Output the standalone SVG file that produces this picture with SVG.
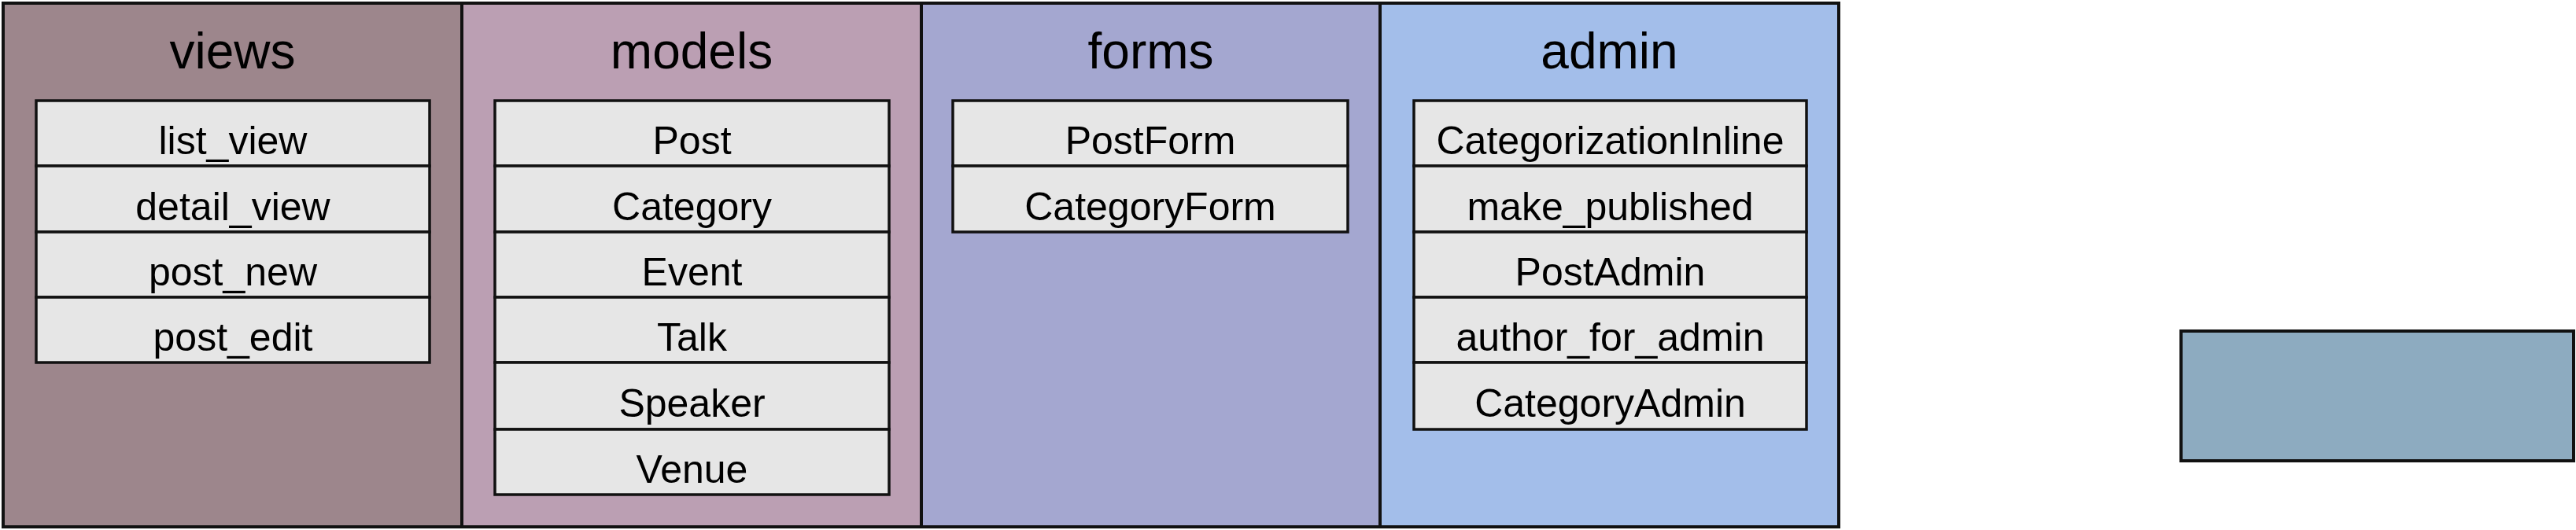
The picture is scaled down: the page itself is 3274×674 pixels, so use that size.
<svg xmlns="http://www.w3.org/2000/svg" width="3274" height="674" viewBox="0 0 3274 674">
<style>
.panel{stroke:#111;stroke-width:4}
.item rect{fill:#e6e6e6;stroke:#111;stroke-width:3.5}
.item text,.hdr{font-family:"Liberation Sans",Arial,sans-serif;fill:#000;text-anchor:middle}
.item text{font-size:50px}
.hdr{font-size:64px}
</style>
<rect x="0" y="0" width="3274" height="674" fill="#ffffff"/>
<g id="views">
<rect class="panel" x="4" y="4" width="583" height="666" fill="#9d868c"/>
<text class="hdr" x="295.5" y="87">views</text>
<g class="item"><rect x="46" y="128" width="500" height="83"/><text x="296" y="196">list_view</text></g>
<g class="item"><rect x="46" y="211" width="500" height="84"/><text x="296" y="280">detail_view</text></g>
<g class="item"><rect x="46" y="295" width="500" height="83"/><text x="296" y="363">post_new</text></g>
<g class="item"><rect x="46" y="378" width="500" height="83"/><text x="296" y="446">post_edit</text></g>
</g>
<g id="models">
<rect class="panel" x="587" y="4" width="584" height="666" fill="#bb9fb3"/>
<text class="hdr" x="879" y="87">models</text>
<g class="item"><rect x="629" y="128" width="501" height="83"/><text x="879.5" y="196">Post</text></g>
<g class="item"><rect x="629" y="211" width="501" height="84"/><text x="879.5" y="280">Category</text></g>
<g class="item"><rect x="629" y="295" width="501" height="83"/><text x="879.5" y="363">Event</text></g>
<g class="item"><rect x="629" y="378" width="501" height="83"/><text x="879.5" y="446">Talk</text></g>
<g class="item"><rect x="629" y="461" width="501" height="85"/><text x="879.5" y="530">Speaker</text></g>
<g class="item"><rect x="629" y="546" width="501" height="83"/><text x="879.5" y="614">Venue</text></g>
</g>
<g id="forms">
<rect class="panel" x="1171" y="4" width="583" height="666" fill="#a4a7d0"/>
<text class="hdr" x="1462.5" y="87">forms</text>
<g class="item"><rect x="1211" y="128" width="502" height="83"/><text x="1462" y="196">PostForm</text></g>
<g class="item"><rect x="1211" y="211" width="502" height="84"/><text x="1462" y="280">CategoryForm</text></g>
</g>
<g id="admin">
<rect class="panel" x="1754" y="4" width="583" height="666" fill="#a3beea"/>
<text class="hdr" x="2045.5" y="87">admin</text>
<g class="item"><rect x="1797" y="128" width="499" height="83"/><text x="2046.5" y="196">CategorizationInline</text></g>
<g class="item"><rect x="1797" y="211" width="499" height="84"/><text x="2046.5" y="280">make_published</text></g>
<g class="item"><rect x="1797" y="295" width="499" height="83"/><text x="2046.5" y="363">PostAdmin</text></g>
<g class="item"><rect x="1797" y="378" width="499" height="83"/><text x="2046.5" y="446">author_for_admin</text></g>
<g class="item"><rect x="1797" y="461" width="499" height="85"/><text x="2046.5" y="530">CategoryAdmin</text></g>
</g>
<g id="box">
<rect x="2772" y="421" width="499" height="165" fill="#8dabc0" stroke="#111" stroke-width="4"/>
</g>
<g id="connectors"></g>
</svg>
